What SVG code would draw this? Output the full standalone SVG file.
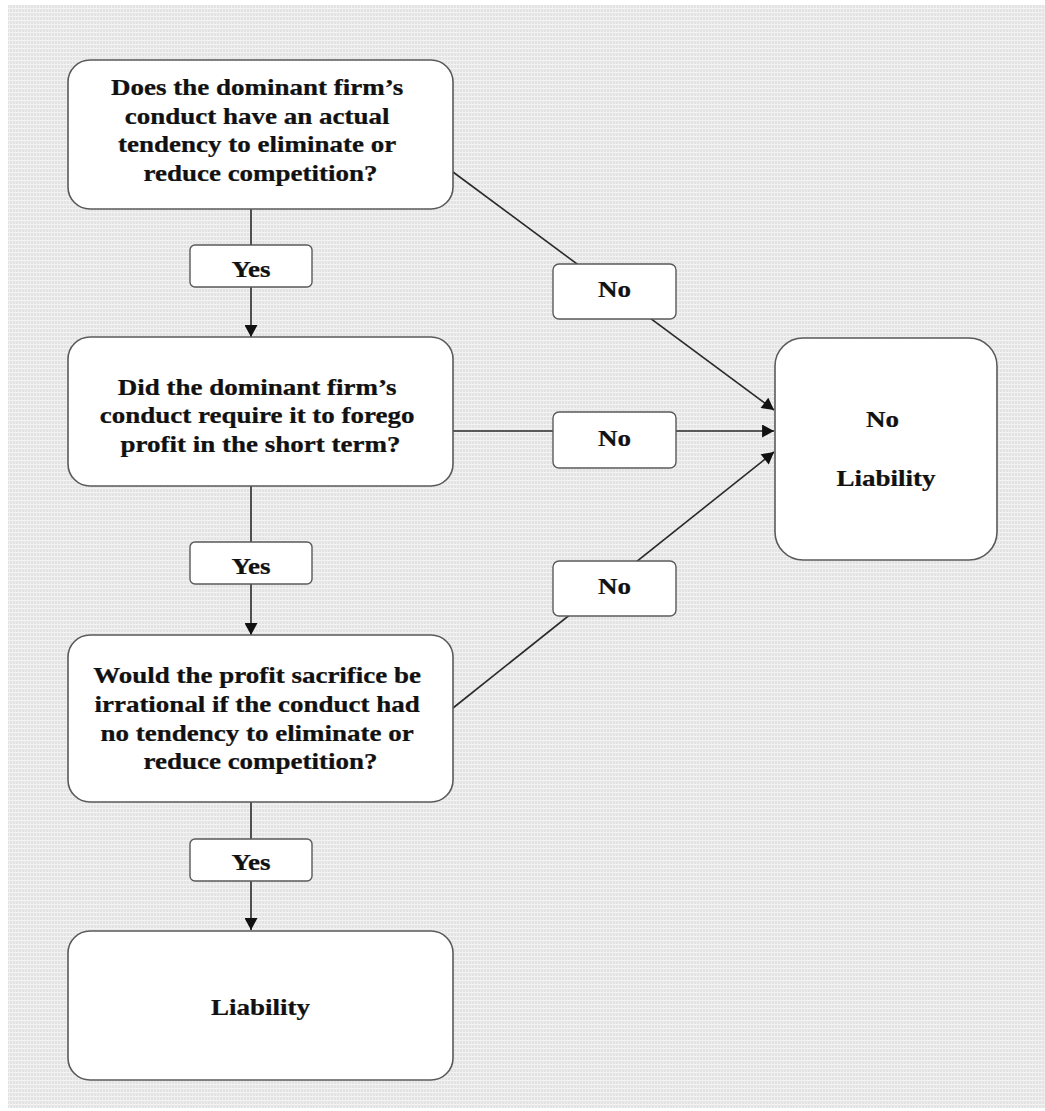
<svg xmlns="http://www.w3.org/2000/svg" width="1045" height="1111" viewBox="0 0 1045 1111">
<style>
.box{fill:#ffffff;stroke:#5a5a5a;stroke-width:1.6}
.lbl{fill:#ffffff;stroke:#5a5a5a;stroke-width:1.4}
.t{font-family:"Liberation Serif","Times New Roman",serif;font-weight:bold;font-size:22.5px;fill:#111111;text-anchor:middle;stroke:#111111;stroke-width:0.25}
.c{fill:none;stroke:#2a2a2a;stroke-width:1.6}
</style>
<defs>
<pattern id="grid" width="3" height="4" patternUnits="userSpaceOnUse">
<rect width="3" height="4" fill="#e3e3e3"/>
<rect x="0" y="0" width="3" height="1" fill="#f5f5f5"/>
<rect x="0" y="0" width="1" height="4" fill="#eeeeee"/>
</pattern>
<marker id="arr" markerUnits="userSpaceOnUse" markerWidth="13" markerHeight="13" viewBox="0 0 11 12" refX="11" refY="6" orient="auto">
<path d="M0,0 L11,6 L0,12 z" fill="#111111"/>
</marker>
</defs>
<rect x="0" y="0" width="1045" height="1111" fill="#ffffff"/>
<rect x="8" y="5" width="1037" height="1103" fill="url(#grid)"/>

<g id="connectors">
<line class="c" x1="251" y1="209" x2="251" y2="245"/>
<line class="c" x1="251" y1="287" x2="251" y2="337" marker-end="url(#arr)"/>
<line class="c" x1="251" y1="486" x2="251" y2="542"/>
<line class="c" x1="251" y1="584" x2="251" y2="635" marker-end="url(#arr)"/>
<line class="c" x1="251" y1="802" x2="251" y2="839"/>
<line class="c" x1="251" y1="881" x2="251" y2="930" marker-end="url(#arr)"/>
<line class="c" x1="453" y1="172" x2="774" y2="410" marker-end="url(#arr)"/>
<line class="c" x1="453" y1="431" x2="774" y2="431" marker-end="url(#arr)"/>
<line class="c" x1="453" y1="708" x2="774" y2="452" marker-end="url(#arr)"/>
</g>

<g id="q1">
<rect class="box" x="68" y="60" width="385" height="149" rx="22" ry="22"/>
<text class="t" transform="translate(260.5 0) scale(1.2 1)">
<tspan x="0" y="95">Does the dominant firm’s</tspan>
<tspan x="0" y="124">conduct have an actual</tspan>
<tspan x="0" y="152">tendency to eliminate or</tspan>
<tspan x="0" y="181">reduce competition?</tspan>
</text>
</g>

<g id="yes1">
<rect class="lbl" x="190" y="245" width="122" height="42" rx="5" ry="5"/>
<text class="t" transform="translate(251 277) scale(1.2 1)" x="0" y="0">Yes</text>
</g>

<g id="q2">
<rect class="box" x="68" y="337" width="385" height="149" rx="22" ry="22"/>
<text class="t" transform="translate(260.5 0) scale(1.2 1)">
<tspan x="0" y="395">Did the dominant firm’s</tspan>
<tspan x="0" y="423.5">conduct require it to forego</tspan>
<tspan x="0" y="452">profit in the short term?</tspan>
</text>
</g>

<g id="yes2">
<rect class="lbl" x="190" y="542" width="122" height="42" rx="5" ry="5"/>
<text class="t" transform="translate(251 574) scale(1.2 1)" x="0" y="0">Yes</text>
</g>

<g id="q3">
<rect class="box" x="68" y="635" width="385" height="167" rx="22" ry="22"/>
<text class="t" transform="translate(260.5 0) scale(1.2 1)">
<tspan x="0" y="683">Would the profit sacrifice be</tspan>
<tspan x="0" y="712">irrational if the conduct had</tspan>
<tspan x="0" y="741">no tendency to eliminate or</tspan>
<tspan x="0" y="769">reduce competition?</tspan>
</text>
</g>

<g id="yes3">
<rect class="lbl" x="190" y="839" width="122" height="42" rx="5" ry="5"/>
<text class="t" transform="translate(251 870) scale(1.2 1)" x="0" y="0">Yes</text>
</g>

<g id="liability">
<rect class="box" x="68" y="931" width="385" height="149" rx="22" ry="22"/>
<text class="t" transform="translate(260.5 1015) scale(1.2 1)" x="0" y="0">Liability</text>
</g>

<g id="no1">
<rect class="lbl" x="553" y="264" width="123" height="55" rx="6" ry="6"/>
<text class="t" transform="translate(614.5 297) scale(1.2 1)" x="0" y="0">No</text>
</g>

<g id="no2">
<rect class="lbl" x="553" y="412" width="123" height="56" rx="6" ry="6"/>
<text class="t" transform="translate(614.5 446) scale(1.2 1)" x="0" y="0">No</text>
</g>

<g id="no3">
<rect class="lbl" x="553" y="561" width="123" height="55" rx="6" ry="6"/>
<text class="t" transform="translate(614.5 594) scale(1.2 1)" x="0" y="0">No</text>
</g>

<g id="noliability">
<rect class="box" x="775" y="338" width="222" height="222" rx="28" ry="28"/>
<text class="t" transform="translate(886 0) scale(1.2 1)">
<tspan x="0" y="427">No</tspan>
<tspan x="0" y="486">Liability</tspan>
</text>
</g>
</svg>
